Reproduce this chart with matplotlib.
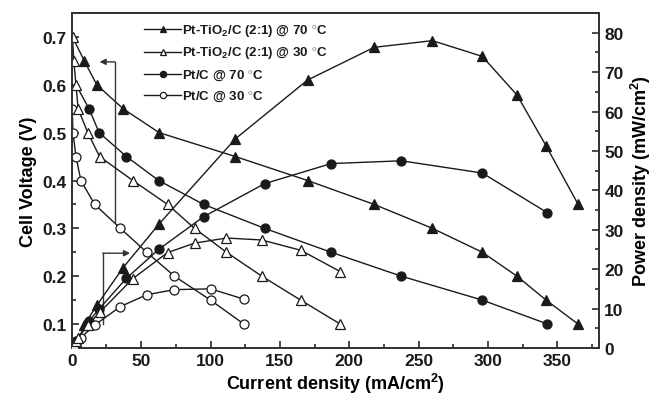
import matplotlib
matplotlib.use("Agg")
import matplotlib.pyplot as plt
from matplotlib.lines import Line2D

plt.rcParams["font.family"] = ["Liberation Sans", "DejaVu Sans"]
plt.rcParams["font.weight"] = "bold"
plt.rcParams["mathtext.fontset"] = "custom"
plt.rcParams["mathtext.rm"] = "Liberation Sans:bold"
plt.rcParams["mathtext.bf"] = "Liberation Sans:bold"
plt.rcParams["mathtext.default"] = "bf"

# Pt-TiO2/C (2:1) @ 70 C
i_pti70 = [0.5, 9, 18, 37, 63, 118, 170, 218, 260, 296, 321, 342, 365]
v_pti70 = [0.70, 0.65, 0.60, 0.55, 0.50, 0.45, 0.40, 0.35, 0.30, 0.25, 0.20, 0.15, 0.10]
ip_pti70 = [9, 18, 37, 63, 118, 170, 218, 260, 296, 321, 342, 365]
p_pti70 = [5.9, 10.8, 20.4, 31.5, 53.1, 68.0, 76.3, 78.0, 74.0, 64.2, 51.3, 36.5]

# Pt-TiO2/C (2:1) @ 30 C
i_pti30 = [0.5, 1.4, 3, 4.5, 11.5, 20, 44, 69, 88.5, 111.5, 137, 165, 193.5]
v_pti30 = [0.70, 0.65, 0.60, 0.55, 0.50, 0.45, 0.40, 0.35, 0.30, 0.25, 0.20, 0.15, 0.10]
p_pti30 = [0.35, 0.9, 1.8, 2.5, 5.8, 9.0, 17.6, 24.2, 26.6, 27.9, 27.4, 24.8, 19.4]

# Pt/C @ 70 C
i_pt70 = [3, 12.4, 19.7, 39.4, 62.6, 95, 139, 187, 237.6, 296, 343]
v_pt70 = [0.60, 0.55, 0.50, 0.45, 0.40, 0.35, 0.30, 0.25, 0.20, 0.15, 0.10]
p_pt70 = [1.8, 6.8, 9.9, 17.7, 25.0, 33.3, 41.7, 46.8, 47.5, 44.4, 34.3]

# Pt/C @ 30 C
i_pt30 = [0.3, 0.8, 3, 6.5, 16.5, 35, 54, 74, 100, 124]
v_pt30 = [0.55, 0.50, 0.45, 0.40, 0.35, 0.30, 0.25, 0.20, 0.15, 0.10]
p_pt30 = [0.2, 0.4, 1.35, 2.6, 5.8, 10.5, 13.5, 14.8, 15.0, 12.4]

labels = [
    r"Pt-TiO$_2$/C (2:1) @ 70 $^{\circ}$C",
    r"Pt-TiO$_2$/C (2:1) @ 30 $^{\circ}$C",
    r"Pt/C @ 70 $^{\circ}$C",
    r"Pt/C @ 30 $^{\circ}$C",
]

ink = "#1a1a1a"
fig = plt.figure(figsize=(6.53, 4.02), dpi=100)
ax = fig.add_axes([0.110, 0.132, 0.807, 0.833])
ax2 = ax.twinx()

# filled markers sit underneath the open ones
styles = [
    dict(marker="^", mfc=ink, ms=7.5, zorder=2),
    dict(marker="^", mfc="white", ms=7.5, zorder=4),
    dict(marker="o", mfc=ink, ms=6.5, zorder=2),
    dict(marker="o", mfc="white", ms=6.5, zorder=3),
]
common = dict(color=ink, lw=1.0, mec=ink, mew=0.9)

vdata = [(i_pti70, v_pti70), (i_pti30, v_pti30), (i_pt70, v_pt70), (i_pt30, v_pt30)]
pdata = [(ip_pti70, p_pti70), (i_pti30, p_pti30), (i_pt70, p_pt70), (i_pt30, p_pt30)]
# the open-circuit points of the 70 C runs are hidden under the 30 C markers
v_marks = [slice(1, None), None, slice(1, None), None]

for (x, y), st, mk in zip(vdata, styles, v_marks):
    ax.plot(x, y, markevery=mk, **common, **st)
for (x, y), st in zip(pdata, styles):
    ax2.plot(x, y, **common, **st)

ax.set_xlim(0, 380)
ax.set_ylim(0.05, 0.75)
ax2.set_ylim(0, 85)

ax.set_xticks(range(0, 351, 50))
ax.set_xticks(range(25, 376, 50), minor=True)
ax.set_yticks([0.1, 0.2, 0.3, 0.4, 0.5, 0.6, 0.7])
ax.set_yticks([0.15, 0.25, 0.35, 0.45, 0.55, 0.65], minor=True)
ax2.set_yticks(range(0, 81, 10))
ax2.set_yticks(range(5, 86, 10), minor=True)

for a in (ax, ax2):
    a.tick_params(which="both", direction="in", width=1.1, labelsize=12.5, colors=ink)
    a.tick_params(which="major", length=5)
    a.tick_params(which="minor", length=3)
    for s in a.spines.values():
        s.set_linewidth(1.3)
        s.set_color("#333333")
ax.tick_params(axis="y", right=False)
ax.tick_params(axis="x", top=False)
ax2.tick_params(axis="y", pad=4)
for t in ax.get_xticklabels() + ax.get_yticklabels() + ax2.get_yticklabels():
    t.set_fontweight("bold")

ax.set_xlabel(r"Current density (mA/cm$^2$)", fontsize=13, fontweight="bold", labelpad=2)
ax.set_ylabel("Cell Voltage (V)", fontsize=13, fontweight="bold", labelpad=4)
ax2.set_ylabel(r"Power density (mW/cm$^2$)", fontsize=13, fontweight="bold", labelpad=4)

# arrows pointing each curve group to its axis
ax.plot([31, 31], [0.3125, 0.648], color="#333333", lw=1.0)
ax.annotate("", xy=(20, 0.648), xytext=(31, 0.648),
            arrowprops=dict(arrowstyle="-|>", color="#333333", lw=1.0,
                            mutation_scale=9, shrinkA=0, shrinkB=0))
ax.plot([22.3, 22.3], [0.1, 0.248], color="#333333", lw=1.0)
ax.annotate("", xy=(42, 0.248), xytext=(22.3, 0.248),
            arrowprops=dict(arrowstyle="-|>", color="#333333", lw=1.0,
                            mutation_scale=9, shrinkA=0, shrinkB=0))

handles = []
for st in styles:
    h = Line2D([], [], **common, **st)
    h.set_markersize(4.5)
    handles.append(h)
leg = ax.legend(handles, labels, loc="upper left", bbox_to_anchor=(0.117, 1.005),
                frameon=False, fontsize=9.5, handlelength=2.8, handletextpad=0.1,
                labelspacing=0.45, borderaxespad=0.4)
for t in leg.get_texts():
    t.set_fontweight("bold")
    t.set_color(ink)

fig.savefig("out.png", dpi=100)
